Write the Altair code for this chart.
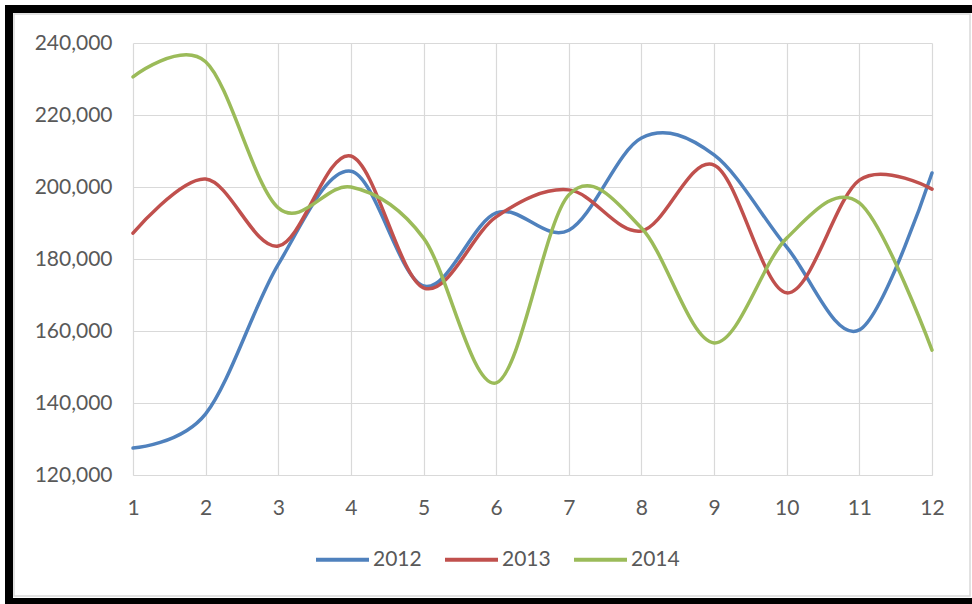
import altair as alt
import pandas as pd

# Monthly totals per year
months = list(range(1, 13))
years = ["2012", "2013", "2014"]
sales_2012 = [127500, 137000, 178500, 204400, 172500, 192800, 188000, 213600, 208900, 183300, 160300, 203900]
sales_2013 = [187200, 202200, 183600, 208600, 172000, 191700, 199200, 187800, 206100, 170600, 201900, 199400]
sales_2014 = [230600, 234800, 194200, 200000, 185800, 145600, 197800, 188600, 156700, 185800, 195600, 154700]
y_ticks = [120000, 140000, 160000, 180000, 200000, 220000, 240000]
palette = ["#4F81BD", "#C0504D", "#9BBB59"]

rows = []
for year, series in zip(years, [sales_2012, sales_2013, sales_2014]):
    for m, v in zip(months, series):
        rows.append({"month": m, "value": v, "year": year})
df = pd.DataFrame(rows)

FONT = "Lato"
TEXT = "#595959"
GRID = "#D9D9D9"

lines = alt.Chart(df).mark_line(
    interpolate="cardinal", tension=0, strokeWidth=3.5, strokeCap="round"
).encode(
    x=alt.X("month:Q",
            scale=alt.Scale(domain=[1, 12], nice=False, zero=False),
            axis=alt.Axis(values=months, title=None, format=".0f",
                          labelPadding=22, grid=True, ticks=False,
                          domain=True, labelFlush=False, labelBound=False,
                          labelOverlap=False)),
    y=alt.Y("value:Q",
            scale=alt.Scale(domain=[120000, 240000], nice=False, zero=False),
            axis=alt.Axis(values=y_ticks, title=None, format=",.0f",
                          labelPadding=21, grid=True, ticks=False,
                          domain=False, labelFlush=False, labelBound=False,
                          labelOverlap=False)),
    color=alt.Color("year:N",
                    scale=alt.Scale(domain=years, range=palette),
                    legend=alt.Legend(title=None, orient="none",
                                      direction="horizontal",
                                      legendX=181, legendY=488,
                                      symbolType="stroke", symbolSize=2809,
                                      symbolStrokeWidth=4,
                                      labelOffset=2, columnPadding=15,
                                      padding=0)),
)

# Outer frame around the chart area
one = alt.Data(values=[{"k": 0}])
frame_left = alt.Chart(one).mark_rect(color="black").encode(
    x=alt.value(-128), x2=alt.value(-120), y=alt.value(-38), y2=alt.value(561))
frame_top = alt.Chart(one).mark_rect(color="black").encode(
    x=alt.value(-128), x2=alt.value(839), y=alt.value(-38), y2=alt.value(-30))
frame_bottom = alt.Chart(one).mark_rect(color="black").encode(
    x=alt.value(-128), x2=alt.value(839), y=alt.value(555), y2=alt.value(561))
inner_border = alt.Chart(one).mark_rect(
    fill=None, stroke=GRID, strokeWidth=1.5).encode(
    x=alt.value(-119), x2=alt.value(837), y=alt.value(-29), y2=alt.value(553))

chart = alt.layer(
    inner_border, frame_left, frame_top, frame_bottom, lines
).properties(
    width=799, height=432,
    autosize=alt.AutoSizeParams(type="none"),
    padding={"left": 133, "top": 43, "right": 40, "bottom": 129},
    background="white",
).configure_view(
    stroke=None
).configure_axis(
    gridColor=GRID, gridWidth=1.2, domainColor=GRID, domainWidth=1.2,
    labelFont=FONT, labelFontSize=21, labelColor=TEXT,
).configure_legend(
    labelFont=FONT, labelFontSize=21, labelColor=TEXT,
)

chart.save("out.html", embed_options={"renderer": "svg", "actions": False})
